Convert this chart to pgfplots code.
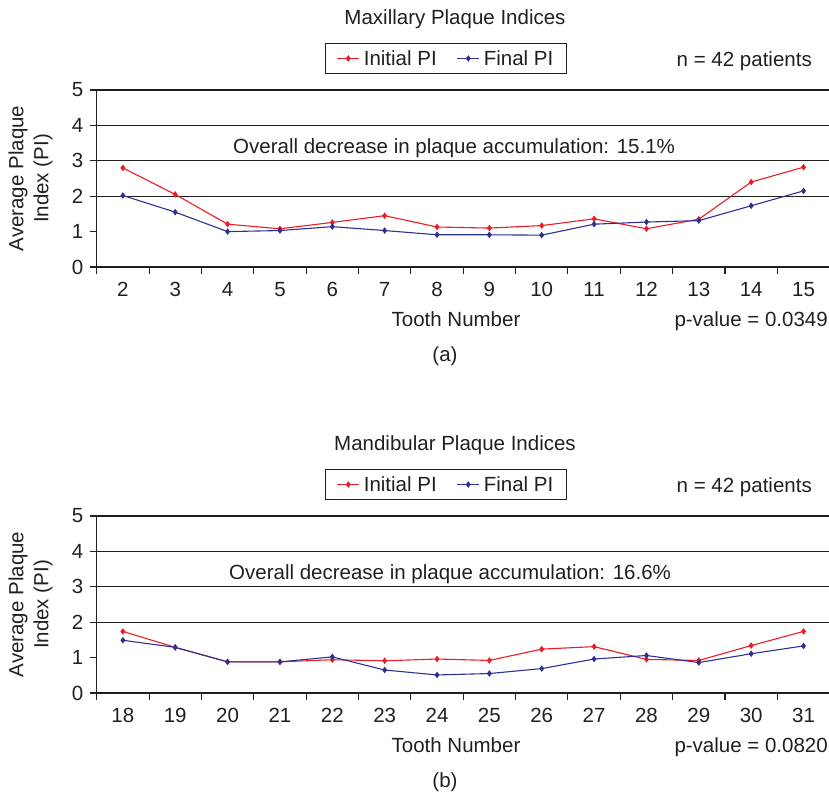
\documentclass[border=0pt]{standalone}
\usepackage{fontspec}
\setmainfont{Liberation Sans}
\usepackage{pgfplots}
\pgfplotsset{compat=1.18}
\definecolor{txt}{RGB}{35,31,32}
\definecolor{ired}{RGB}{237,28,36}
\definecolor{fblue}{RGB}{46,49,146}
\newcommand\ff{\fontsize{20.5}{25}\selectfont}

\pgfplotsset{
 plaque/.style={
  scale only axis, width=733pt, height=177pt,
  xmin=-0.5, xmax=13.5, ymin=0, ymax=5,
  axis x line*=bottom, axis y line*=left,
  axis line style={-, draw=txt, line width=1.1pt},
  xtick={-0.5,0.5,...,13.5}, xticklabels={},
  ytick={0,1,2,3,4,5}, yticklabels={0,1,2,3,4,5},
  major tick length=7pt, tick align=outside,
  tick style={draw=txt, line width=1.1pt},
  extra y ticks={2,3,4,5}, extra y tick labels={},
  extra y tick style={grid=major, tick style={draw=none}},
  major grid style={draw=txt, line width=1.1pt},
  ticklabel style={font=\ff, text=txt},
  yticklabel style={xshift=-3pt},
  xticklabel style={yshift=-5pt},
  legend columns=2,
  legend style={at={(0.4766,1.178)}, anchor=center, draw=txt, line width=0.8pt,
    font=\ff, text=txt, inner xsep=11pt, inner ysep=5pt,
    /tikz/every odd column/.append style={column sep=2pt},
    /tikz/every even column/.append style={column sep=18pt}},
  legend image code/.code={\draw[mark repeat=2,mark phase=2,#1] plot coordinates {(0pt,0pt)(11pt,0pt)(22pt,0pt)};},
  clip=false,
 },
 ipi/.style={draw=ired, line width=1.1pt, mark=diamond*, mark size=2.4pt, mark options={solid, fill=ired, draw=ired}},
 fpi/.style={draw=fblue, line width=1.1pt, mark=diamond*, mark size=2.4pt, mark options={solid, fill=fblue, draw=fblue}},
}

\begin{document}
\begin{tikzpicture}
\useasboundingbox (0,0) rectangle (829pt,-793pt);

% ---------------- (a) Maxillary ----------------
\begin{axis}[plaque, at={(96.7pt,-267pt)}, anchor=south west,
  extra x ticks={0,1,2,3,4,5,6,7,8,9,10,11,12,13},
  extra x tick labels={2,3,4,5,6,7,8,9,10,11,12,13,14,15},
  extra x tick style={tick style={draw=none}}]
\addplot[ipi] coordinates {(0,2.80)(1,2.05)(2,1.21)(3,1.08)(4,1.26)(5,1.45)(6,1.13)(7,1.10)(8,1.17)(9,1.36)(10,1.08)(11,1.35)(12,2.40)(13,2.82)};
\addlegendentry{Initial PI}
\addplot[fpi] coordinates {(0,2.02)(1,1.55)(2,1.00)(3,1.03)(4,1.14)(5,1.03)(6,0.91)(7,0.91)(8,0.90)(9,1.21)(10,1.27)(11,1.31)(12,1.73)(13,2.15)};
\addlegendentry{Final PI}
\end{axis}

% ---------------- (b) Mandibular ----------------
\begin{axis}[plaque, at={(96.7pt,-693pt)}, anchor=south west,
  extra x ticks={0,1,2,3,4,5,6,7,8,9,10,11,12,13},
  extra x tick labels={18,19,20,21,22,23,24,25,26,27,28,29,30,31},
  extra x tick style={tick style={draw=none}}]
\addplot[ipi] coordinates {(0,1.74)(1,1.29)(2,0.88)(3,0.88)(4,0.94)(5,0.91)(6,0.96)(7,0.92)(8,1.24)(9,1.31)(10,0.95)(11,0.92)(12,1.34)(13,1.74)};
\addlegendentry{Initial PI}
\addplot[fpi] coordinates {(0,1.49)(1,1.29)(2,0.88)(3,0.88)(4,1.02)(5,0.65)(6,0.51)(7,0.55)(8,0.69)(9,0.96)(10,1.06)(11,0.86)(12,1.11)(13,1.33)};
\addlegendentry{Final PI}
\end{axis}

% ---------------- texts ----------------
\begin{scope}[every node/.style={font=\ff, text=txt, inner sep=0pt}]
% panel (a)
\node[anchor=base] at (455pt,-24.3pt) {Maxillary Plaque Indices};
\node[anchor=base east] at (812pt,-66.7pt) {n = 42 patients};
\node[anchor=base west] at (233pt,-153.5pt) {Overall decrease in plaque accumulation: 15.1\%};
\node[anchor=base] at (456pt,-326pt) {Tooth Number};
\node[anchor=base east] at (828pt,-326pt) {p-value = 0.0349};
\node[anchor=base] at (445pt,-361.7pt) {(a)};
\node[rotate=90, align=center, font=\fontsize{20.5}{25}\selectfont] at (30.5pt,-178.5pt) {Average Plaque\\Index (PI)};
% panel (b)
\node[anchor=base] at (455pt,-450.5pt) {Mandibular Plaque Indices};
\node[anchor=base east] at (812pt,-492.7pt) {n = 42 patients};
\node[anchor=base west] at (229pt,-579.5pt) {Overall decrease in plaque accumulation: 16.6\%};
\node[anchor=base] at (456pt,-752pt) {Tooth Number};
\node[anchor=base east] at (828pt,-752pt) {p-value = 0.0820};
\node[anchor=base] at (445pt,-787.7pt) {(b)};
\node[rotate=90, align=center, font=\fontsize{20.5}{25}\selectfont] at (30.5pt,-604.5pt) {Average Plaque\\Index (PI)};
\end{scope}
\end{tikzpicture}
\end{document}
